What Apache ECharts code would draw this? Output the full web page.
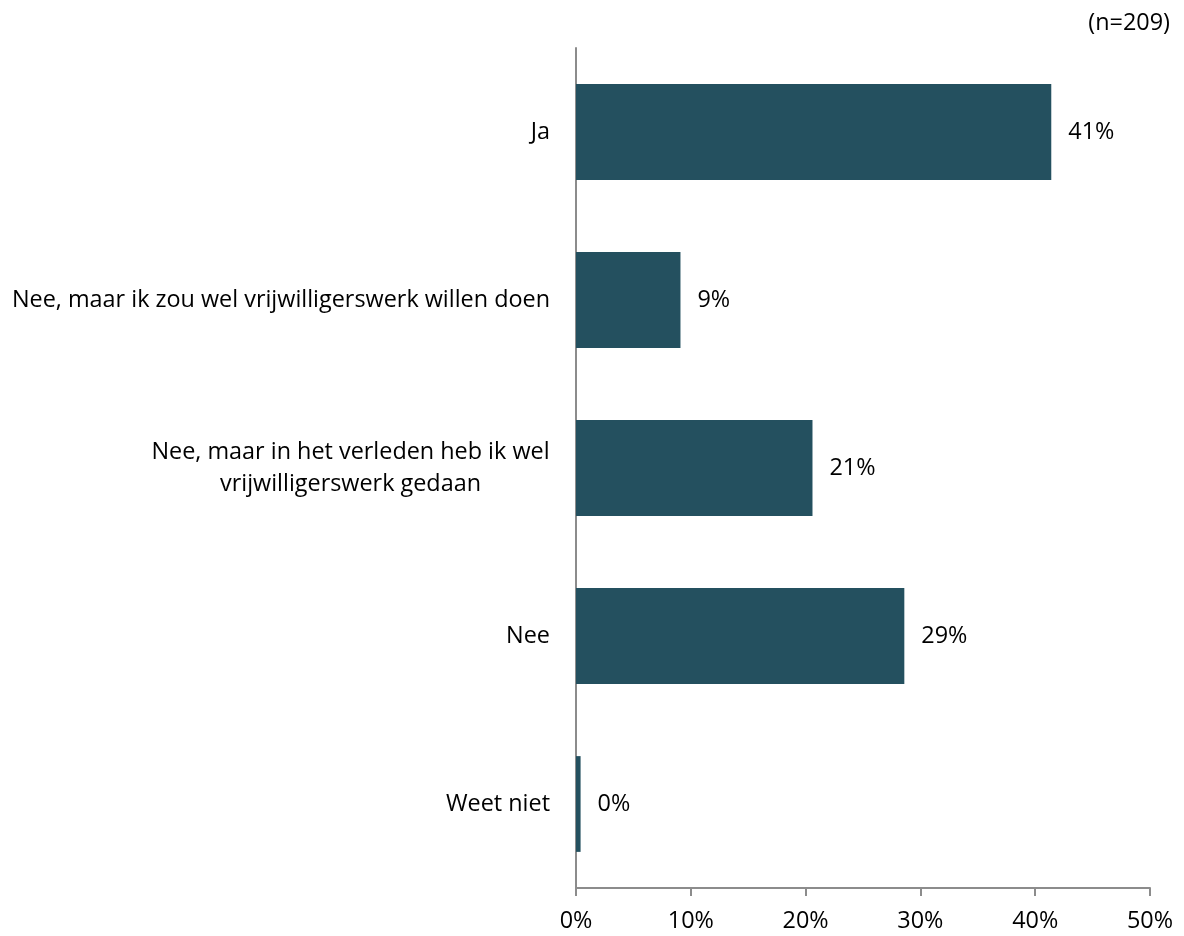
<!DOCTYPE html>
<html>
<head>
<meta charset="utf-8">
<script src="https://cdn.jsdelivr.net/npm/echarts@6/dist/echarts.min.js"></script>
<style>html,body{margin:0;padding:0;background:#fff;}#c{width:1184px;height:936px;}</style>
</head>
<body>
<div id="c"></div>
<script>
const categories = ['Ja', 'Nee, maar ik zou wel vrijwilligerswerk willen doen', 'Nee, maar in het verleden heb ik wel\nvrijwilligerswerk gedaan', 'Nee', 'Weet niet'];
const values = [41.4, 9.1, 20.6, 28.6, 0.4];
const tickLabels = ['0%', '10%', '20%', '30%', '40%', '50%'];
const note = '(n=209)';

const FONT = '"Open Sans", sans-serif';
const FS = 23.4;
function textWidth(s) {
  const ctx = document.createElement('canvas').getContext('2d');
  ctx.font = FS + 'px ' + FONT;
  return Math.ceil(ctx.measureText(s).width);
}
const chart = echarts.init(document.getElementById('c'));
chart.setOption({
  animation: false,
  textStyle: { fontFamily: FONT },
  title: {
    text: note, right: 9, top: 7,
    textStyle: { fontFamily: FONT, fontSize: FS, fontWeight: 'normal', color: '#000' }
  },
  grid: { left: 576, right: 34, top: 48, bottom: 48, containLabel: false },
  xAxis: {
    type: 'value', min: 0, max: 50, interval: 10,
    splitLine: { show: false },
    axisLine: { show: true, lineStyle: { color: '#8c8c8c', width: 2 } },
    axisTick: { show: true, length: 8, lineStyle: { color: '#8c8c8c', width: 2 } },
    axisLabel: {
      margin: 22, fontSize: FS, color: '#000', fontFamily: FONT,
      formatter: function (v) { return tickLabels[Math.round(v / 10)]; }
    }
  },
  yAxis: {
    type: 'category', data: categories, inverse: true,
    axisLine: { show: true, lineStyle: { color: '#8c8c8c', width: 2 } },
    axisTick: { show: false },
    axisLabel: {
      margin: 26, fontSize: FS, color: '#000', fontFamily: FONT, lineHeight: 32,
      formatter: function (v) {
        const lines = v.split('\n');
        if (lines.length === 1) return v;
        const w = Math.max.apply(null, lines.map(textWidth));
        return lines.map(function (l) { return '{c' + w + '|' + l + '}'; }).join('\n');
      },
      rich: (function () {
        const r = {};
        categories.forEach(function (c) {
          const lines = c.split('\n');
          if (lines.length > 1) {
            const w = Math.max.apply(null, lines.map(textWidth));
            r['c' + w] = { width: w, align: 'center', fontSize: FS, lineHeight: 32, fontFamily: FONT, color: '#000' };
          }
        });
        return r;
      })()
    }
  },
  series: [{
    type: 'bar', data: values, barWidth: '57%',
    itemStyle: { color: '#24505f' },
    label: {
      show: true, position: 'right', distance: 17, fontSize: FS, color: '#000', fontFamily: FONT,
      formatter: function (p) { return Math.round(p.value) + '%'; }
    }
  }]
});
</script>
</body>
</html>
